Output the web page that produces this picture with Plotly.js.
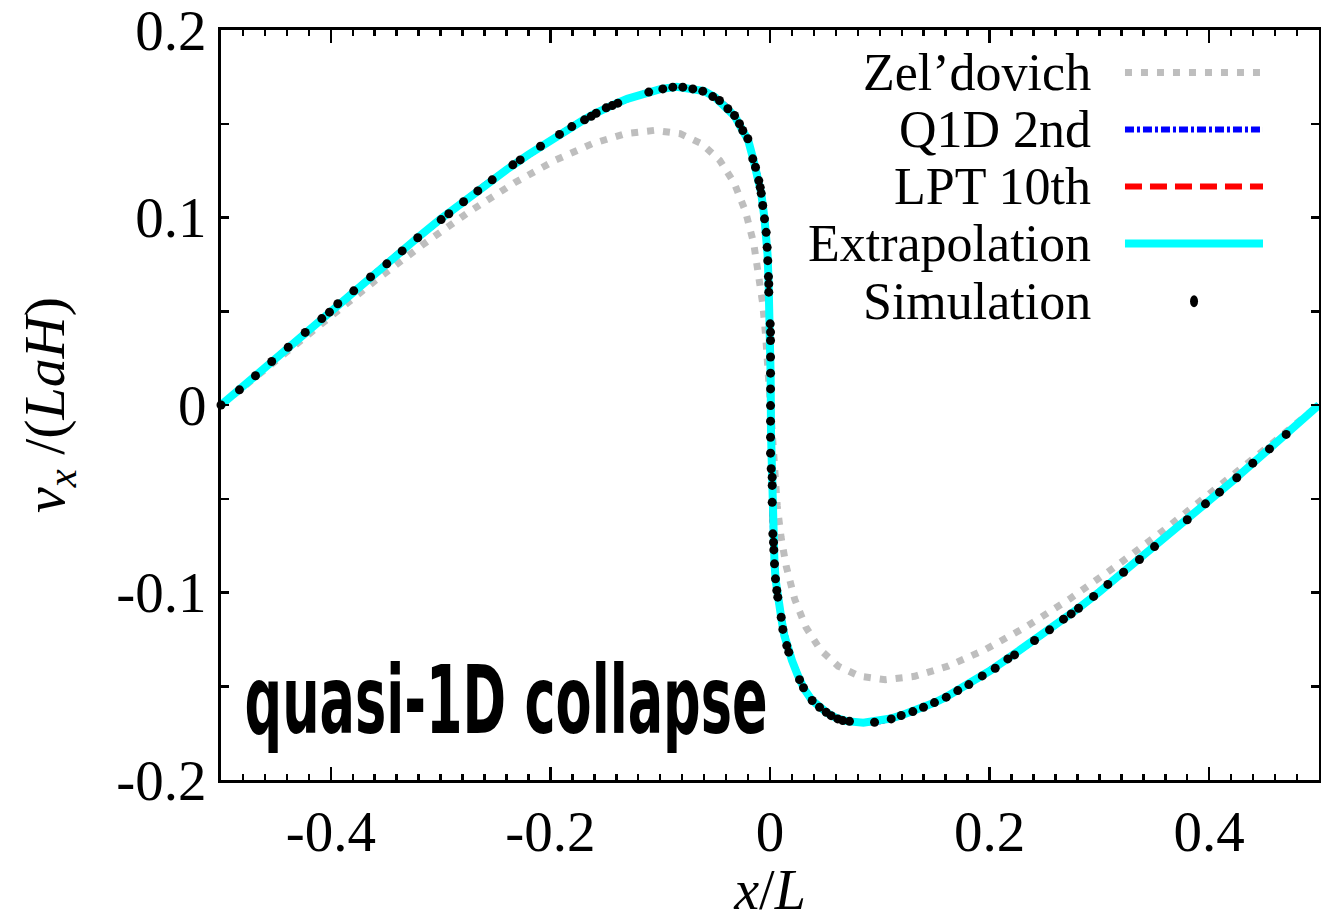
<!DOCTYPE html>
<html>
<head>
<meta charset="utf-8">
<script src="https://cdn.plot.ly/plotly-3.0.1.min.js"></script>
<style>html,body{margin:0;padding:0;background:#fff;}#chart{width:1321px;height:921px;}</style>
</head>
<body>
<div id="chart"></div>
<script>
// ---------- data ----------
const seriesNames = ["Zel\u2019dovich", "Q1D 2nd", "LPT 10th", "Extrapolation", "Simulation"];

const zelX = [-0.5,-0.4523,-0.4052,-0.3592,-0.3148,-0.2725,-0.2327,-0.1958,-0.1621,-0.1318,-0.105,-0.0818,-0.0621,-0.0458,-0.0327,-0.0225,-0.0148,-0.0101,-0.0066,-0.0039,-0.0018,0,0.0018,0.0039,0.0066,0.0101,0.0148,0.0225,0.0327,0.0458,0.0621,0.0818,0.105,0.1318,0.1621,0.1958,0.2327,0.2725,0.3148,0.3592,0.4052,0.4523,0.5];
const zelY = [0,0.0229,0.0453,0.0665,0.0861,0.1036,0.1185,0.1305,0.1393,0.1447,0.1465,0.1447,0.1393,0.1305,0.1185,0.1036,0.0861,0.0706,0.0539,0.0364,0.0184,0,-0.0184,-0.0364,-0.0539,-0.0706,-0.0861,-0.1036,-0.1185,-0.1305,-0.1393,-0.1447,-0.1465,-0.1447,-0.1393,-0.1305,-0.1185,-0.1036,-0.0861,-0.0665,-0.0453,-0.0229,0];

const curveX = [-0.5,-0.48,-0.46,-0.44,-0.42,-0.40,-0.38,-0.36,-0.34,-0.32,-0.30,-0.28,-0.26,-0.24,-0.22,-0.20,-0.19,-0.18,-0.17,-0.16,-0.15,-0.14,-0.13,-0.12,-0.11,-0.10,-0.085,-0.07,-0.06,-0.05,-0.04,-0.032,-0.025,-0.02,-0.015,-0.011,-0.008,-0.005,-0.0035,-0.0022,-0.0013,-0.0005,0.0002,0.0006,0.0009,0.0015,0.0022,0.0032,0.0041,0.0052,0.0065,0.0085,0.0105,0.013,0.016,0.02,0.025,0.031,0.038,0.045,0.052,0.06,0.07,0.085,0.10,0.11,0.12,0.13,0.14,0.15,0.16,0.17,0.18,0.19,0.20,0.22,0.24,0.26,0.28,0.30,0.32,0.34,0.36,0.38,0.40,0.42,0.44,0.46,0.48,0.5];
const extrapY = [0,0.0101,0.0204,0.0305,0.0406,0.0507,0.0606,0.0703,0.0801,0.0897,0.0992,0.1084,0.1172,0.1255,0.1335,0.1413,0.1450,0.1487,0.1520,0.1553,0.1584,0.1608,0.1633,0.1652,0.1670,0.1685,0.1697,0.1688,0.1674,0.1641,0.1592,0.1540,0.1464,0.1415,0.1305,0.1222,0.1130,0.0995,0.0921,0.0800,0.0660,0.0500,0.0380,0.0150,-0.0150,-0.0400,-0.0600,-0.0735,-0.0847,-0.0935,-0.1010,-0.1075,-0.1145,-0.1228,-0.1297,-0.1362,-0.1437,-0.1514,-0.1573,-0.1612,-0.1642,-0.1668,-0.1686,-0.1695,-0.1687,-0.1672,-0.1654,-0.1635,-0.1612,-0.1587,-0.1558,-0.1525,-0.1491,-0.1455,-0.1419,-0.1338,-0.1258,-0.1177,-0.1088,-0.0997,-0.0901,-0.0807,-0.0708,-0.0612,-0.0510,-0.0412,-0.0309,-0.0208,-0.0104,0];
// Q1D 2nd and LPT 10th coincide with the extrapolation at this scale
const q1dY = extrapY;
const lptY = extrapY;

const simX = [-0.5,-0.4832,-0.4686,-0.4538,-0.4388,-0.4233,-0.4082,-0.4012,-0.3936,-0.3791,-0.3638,-0.3490,-0.3350,-0.3208,-0.2995,-0.2925,-0.2791,-0.2661,-0.2530,-0.2342,-0.2275,-0.2090,-0.1917,-0.1805,-0.1689,-0.1628,-0.1583,-0.1492,-0.1437,-0.1386,-0.1104,-0.0976,-0.0885,-0.0794,-0.0703,-0.0612,-0.0521,-0.0460,-0.0384,-0.0323,-0.0278,-0.0248,-0.0202,-0.0157,-0.0132,-0.0102,-0.0089,-0.0080,-0.0066,-0.0050,-0.0035,-0.0026,-0.0020,-0.0014,-0.0011,-0.0011,0.0002,0.0005,0.0005,0.0005,0.0005,0.0005,0.0005,0.0005,0.0005,0.0005,0.0011,0.0020,0.0020,0.0020,0.0026,0.0032,0.0035,0.0041,0.0050,0.0062,0.0071,0.0102,0.0117,0.0153,0.0171,0.0269,0.0305,0.0384,0.0451,0.0512,0.0557,0.0617,0.0663,0.0724,0.0952,0.1104,0.1195,0.1301,0.1398,0.1498,0.1605,0.1710,0.1811,0.1933,0.2051,0.2166,0.2227,0.2409,0.2546,0.2673,0.2743,0.2810,0.2947,0.3077,0.3220,0.3365,0.3502,0.3800,0.3966,0.4094,0.4251,0.4397,0.4549,0.4701];
const simY = [0,0.0081,0.0156,0.0232,0.0308,0.0387,0.0461,0.0495,0.0540,0.0609,0.0683,0.0753,0.0822,0.0892,0.0989,0.1020,0.1084,0.1142,0.1201,0.1281,0.1307,0.1380,0.1443,0.1485,0.1521,0.1540,0.1556,0.1585,0.1597,0.1610,0.1669,0.1686,0.1695,0.1695,0.1686,0.1674,0.1645,0.1624,0.1580,0.1544,0.1500,0.1464,0.1420,0.1313,0.1268,0.1197,0.1161,0.1129,0.1064,0.0993,0.0921,0.0841,0.0770,0.0685,0.0646,0.0602,0.0433,0.0389,0.0344,0.0256,0.0170,0.0086,-0.0003,-0.0086,-0.0172,-0.0257,-0.0340,-0.0385,-0.0429,-0.0519,-0.0687,-0.0732,-0.0773,-0.0847,-0.0927,-0.0989,-0.1025,-0.1132,-0.1197,-0.1283,-0.1318,-0.1465,-0.1508,-0.1576,-0.1612,-0.1639,-0.1657,-0.1674,-0.1683,-0.1687,-0.1692,-0.1674,-0.1656,-0.1635,-0.1612,-0.1587,-0.1558,-0.1523,-0.1491,-0.1445,-0.1404,-0.1354,-0.1333,-0.1256,-0.1199,-0.1142,-0.1114,-0.1084,-0.1021,-0.0957,-0.0892,-0.0824,-0.0755,-0.0612,-0.0527,-0.0465,-0.0388,-0.0310,-0.0234,-0.0157];

const xTickVals = [-0.4,-0.2,0,0.2,0.4];
const xTickText = ["-0.4","-0.2","0","0.2","0.4"];
const yTickVals = [-0.2,-0.1,0,0.1,0.2];
const yTickText = ["-0.2","-0.1","0","0.1","0.2"];

// ---------- styles ----------
const serif = "Liberation Serif, Times New Roman, serif";
const colors = {zel:"#bebebe", q1d:"#0000ff", lpt:"#ff0000", ext:"#00ffff", sim:"#000000"};

const traces = [
  {x: zelX, y: zelY, mode:"lines", name: seriesNames[0], line:{color:colors.zel, width:7, dash:"7px,9px"}},
  {x: curveX, y: q1dY, mode:"lines", name: seriesNames[1], line:{color:colors.q1d, width:6, dash:"9px,3px,3px,3px"}},
  {x: curveX, y: lptY, mode:"lines", name: seriesNames[2], line:{color:colors.lpt, width:6, dash:"17px,8px"}},
  {x: curveX, y: extrapY, mode:"lines", name: seriesNames[3], line:{color:colors.ext, width:8}},
  {x: simX, y: simY, mode:"markers", name: seriesNames[4], marker:{color:colors.sim, size:9}, cliponaxis:false}
];

// legend (text on the left, sample on the right, like the original)
const legRowsY = [0.9434, 0.8674, 0.7915, 0.7155, 0.6382];
const legTextX = 0.7942, legL0 = 0.8233, legL1 = 0.949, legDotX = 0.8862;
const annotations = seriesNames.map((n,i)=>({
  xref:"paper", yref:"paper", x:legTextX, y:legRowsY[i], xanchor:"right", yanchor:"middle",
  text:n, showarrow:false, font:{family:serif, size:52, color:"#000"}
}));
annotations.push({
  xref:"paper", yref:"paper", x:0.26, y:0.106, xanchor:"center", yanchor:"middle",
  text:"quasi-1D collapse", showarrow:false,
  font:{family:"DejaVu Sans Condensed, DejaVu Sans, sans-serif", size:94, weight:"bold", color:"#000"}
});
const shapes = [
  {type:"line", xref:"paper", yref:"paper", x0:legL0, x1:legL1, y0:legRowsY[0], y1:legRowsY[0], line:{color:colors.zel, width:7, dash:"7px,9px"}},
  {type:"line", xref:"paper", yref:"paper", x0:legL0, x1:legL1, y0:legRowsY[1], y1:legRowsY[1], line:{color:colors.q1d, width:6, dash:"9px,3px,3px,3px"}},
  {type:"line", xref:"paper", yref:"paper", x0:legL0, x1:legL1, y0:legRowsY[2], y1:legRowsY[2], line:{color:colors.lpt, width:6, dash:"17px,8px"}},
  {type:"line", xref:"paper", yref:"paper", x0:legL0, x1:legL1, y0:legRowsY[3], y1:legRowsY[3], line:{color:colors.ext, width:8}},
  {type:"circle", xref:"paper", yref:"paper", xsizemode:"pixel", ysizemode:"pixel", xanchor:legDotX, yanchor:legRowsY[4], x0:-4, x1:4, y0:-6, y1:6, fillcolor:colors.sim, line:{width:0}}
];

const layout = {
  width:1321, height:921,
  margin:{l:221, r:2, t:30, b:141},
  paper_bgcolor:"#fff", plot_bgcolor:"#fff",
  showlegend:false,
  font:{family:serif, size:57, color:"#000"},
  xaxis:{
    range:[-0.5,0.5], tickmode:"array", tickvals:xTickVals, ticktext:xTickText,
    ticks:"inside", ticklen:13, tickwidth:2.5, tickcolor:"#000",
    minor:{dtick:0.02, tick0:0, ticks:"inside", ticklen:6, tickwidth:2.5, tickcolor:"#000"},
    showline:true, linewidth:3, linecolor:"#000", mirror:"allticks",
    showgrid:false, zeroline:false, tickfont:{family:serif, size:57},
    ticklabeloverflow:"allow",
    title:{text:"<i>x</i>/<i>L</i>", font:{family:serif, size:56}, standoff:14}
  },
  yaxis:{
    range:[-0.2,0.2], tickmode:"array", tickvals:yTickVals, ticktext:yTickText,
    ticks:"inside", ticklen:8, tickwidth:2.5, tickcolor:"#000",
    minor:{dtick:0.05, tick0:0, ticks:"inside", ticklen:8, tickwidth:2.5, tickcolor:"#000"},
    showline:true, linewidth:3, linecolor:"#000", mirror:"allticks",
    showgrid:false, zeroline:false, tickfont:{family:serif, size:57},
    ticklabeloverflow:"allow",
    title:{text:"<i>v<sub>x</sub></i> /(<i>LaH</i>)", font:{family:serif, size:58}, standoff:34}
  },
  annotations:annotations,
  shapes:shapes
};

Plotly.newPlot("chart", traces, layout, {staticPlot:true}).then(()=>{
  document.querySelectorAll(".annotation-text").forEach(t=>{
    if (t.textContent.indexOf("quasi")>=0) {
      t.setAttribute("textLength", "523");
      t.setAttribute("lengthAdjust", "spacingAndGlyphs");
    }
  });
});
</script>
</body>
</html>
